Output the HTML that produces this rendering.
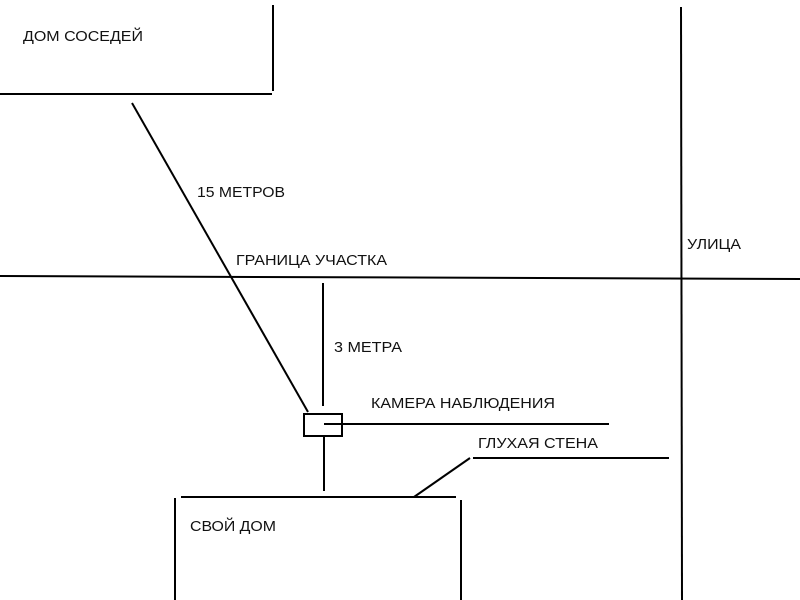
<!DOCTYPE html>
<html>
<head>
<meta charset="utf-8">
<style>
html,body{margin:0;padding:0;background:#fff;}
svg{display:block;}
text{font-family:"Liberation Sans","Noto Sans CJK SC",sans-serif;font-size:15px;fill:#111;}
</style>
</head>
<body>
<svg width="800" height="600" viewBox="0 0 800 600" xmlns="http://www.w3.org/2000/svg">
<g stroke="#000" stroke-width="2" fill="none" stroke-linecap="butt">
  <line x1="0" y1="94" x2="272" y2="94"/>
  <line x1="273" y1="5" x2="273" y2="91"/>
  <line x1="132" y1="103" x2="308" y2="412"/>
  <line x1="0" y1="276" x2="800" y2="279"/>
  <line x1="681" y1="7" x2="682" y2="600"/>
  <line x1="323" y1="283" x2="323" y2="406"/>
  <rect x="304" y="414" width="38" height="22"/>
  <line x1="324" y1="424" x2="609" y2="424"/>
  <line x1="324" y1="436" x2="324" y2="491"/>
  <line x1="181" y1="497" x2="456" y2="497"/>
  <line x1="175" y1="498" x2="175" y2="600"/>
  <line x1="461" y1="500" x2="461" y2="600"/>
  <line x1="414" y1="497" x2="470" y2="458"/>
  <line x1="473" y1="458" x2="669" y2="458"/>
</g>
<text x="23" y="41" textLength="120" lengthAdjust="spacingAndGlyphs">ДОМ СОСЕДЕЙ</text>
<text x="197" y="197" textLength="88" lengthAdjust="spacingAndGlyphs">15 МЕТРОВ</text>
<text x="236" y="265" textLength="151" lengthAdjust="spacingAndGlyphs">ГРАНИЦА УЧАСТКА</text>
<text x="334" y="352" textLength="68" lengthAdjust="spacingAndGlyphs">3 МЕТРА</text>
<text x="371" y="408" textLength="184" lengthAdjust="spacingAndGlyphs">КАМЕРА НАБЛЮДЕНИЯ</text>
<text x="478" y="448" textLength="120" lengthAdjust="spacingAndGlyphs">ГЛУХАЯ СТЕНА</text>
<text x="687" y="249" textLength="54" lengthAdjust="spacingAndGlyphs">УЛИЦА</text>
<text x="190" y="531" textLength="86" lengthAdjust="spacingAndGlyphs">СВОЙ ДОМ</text>
</svg>
</body>
</html>
